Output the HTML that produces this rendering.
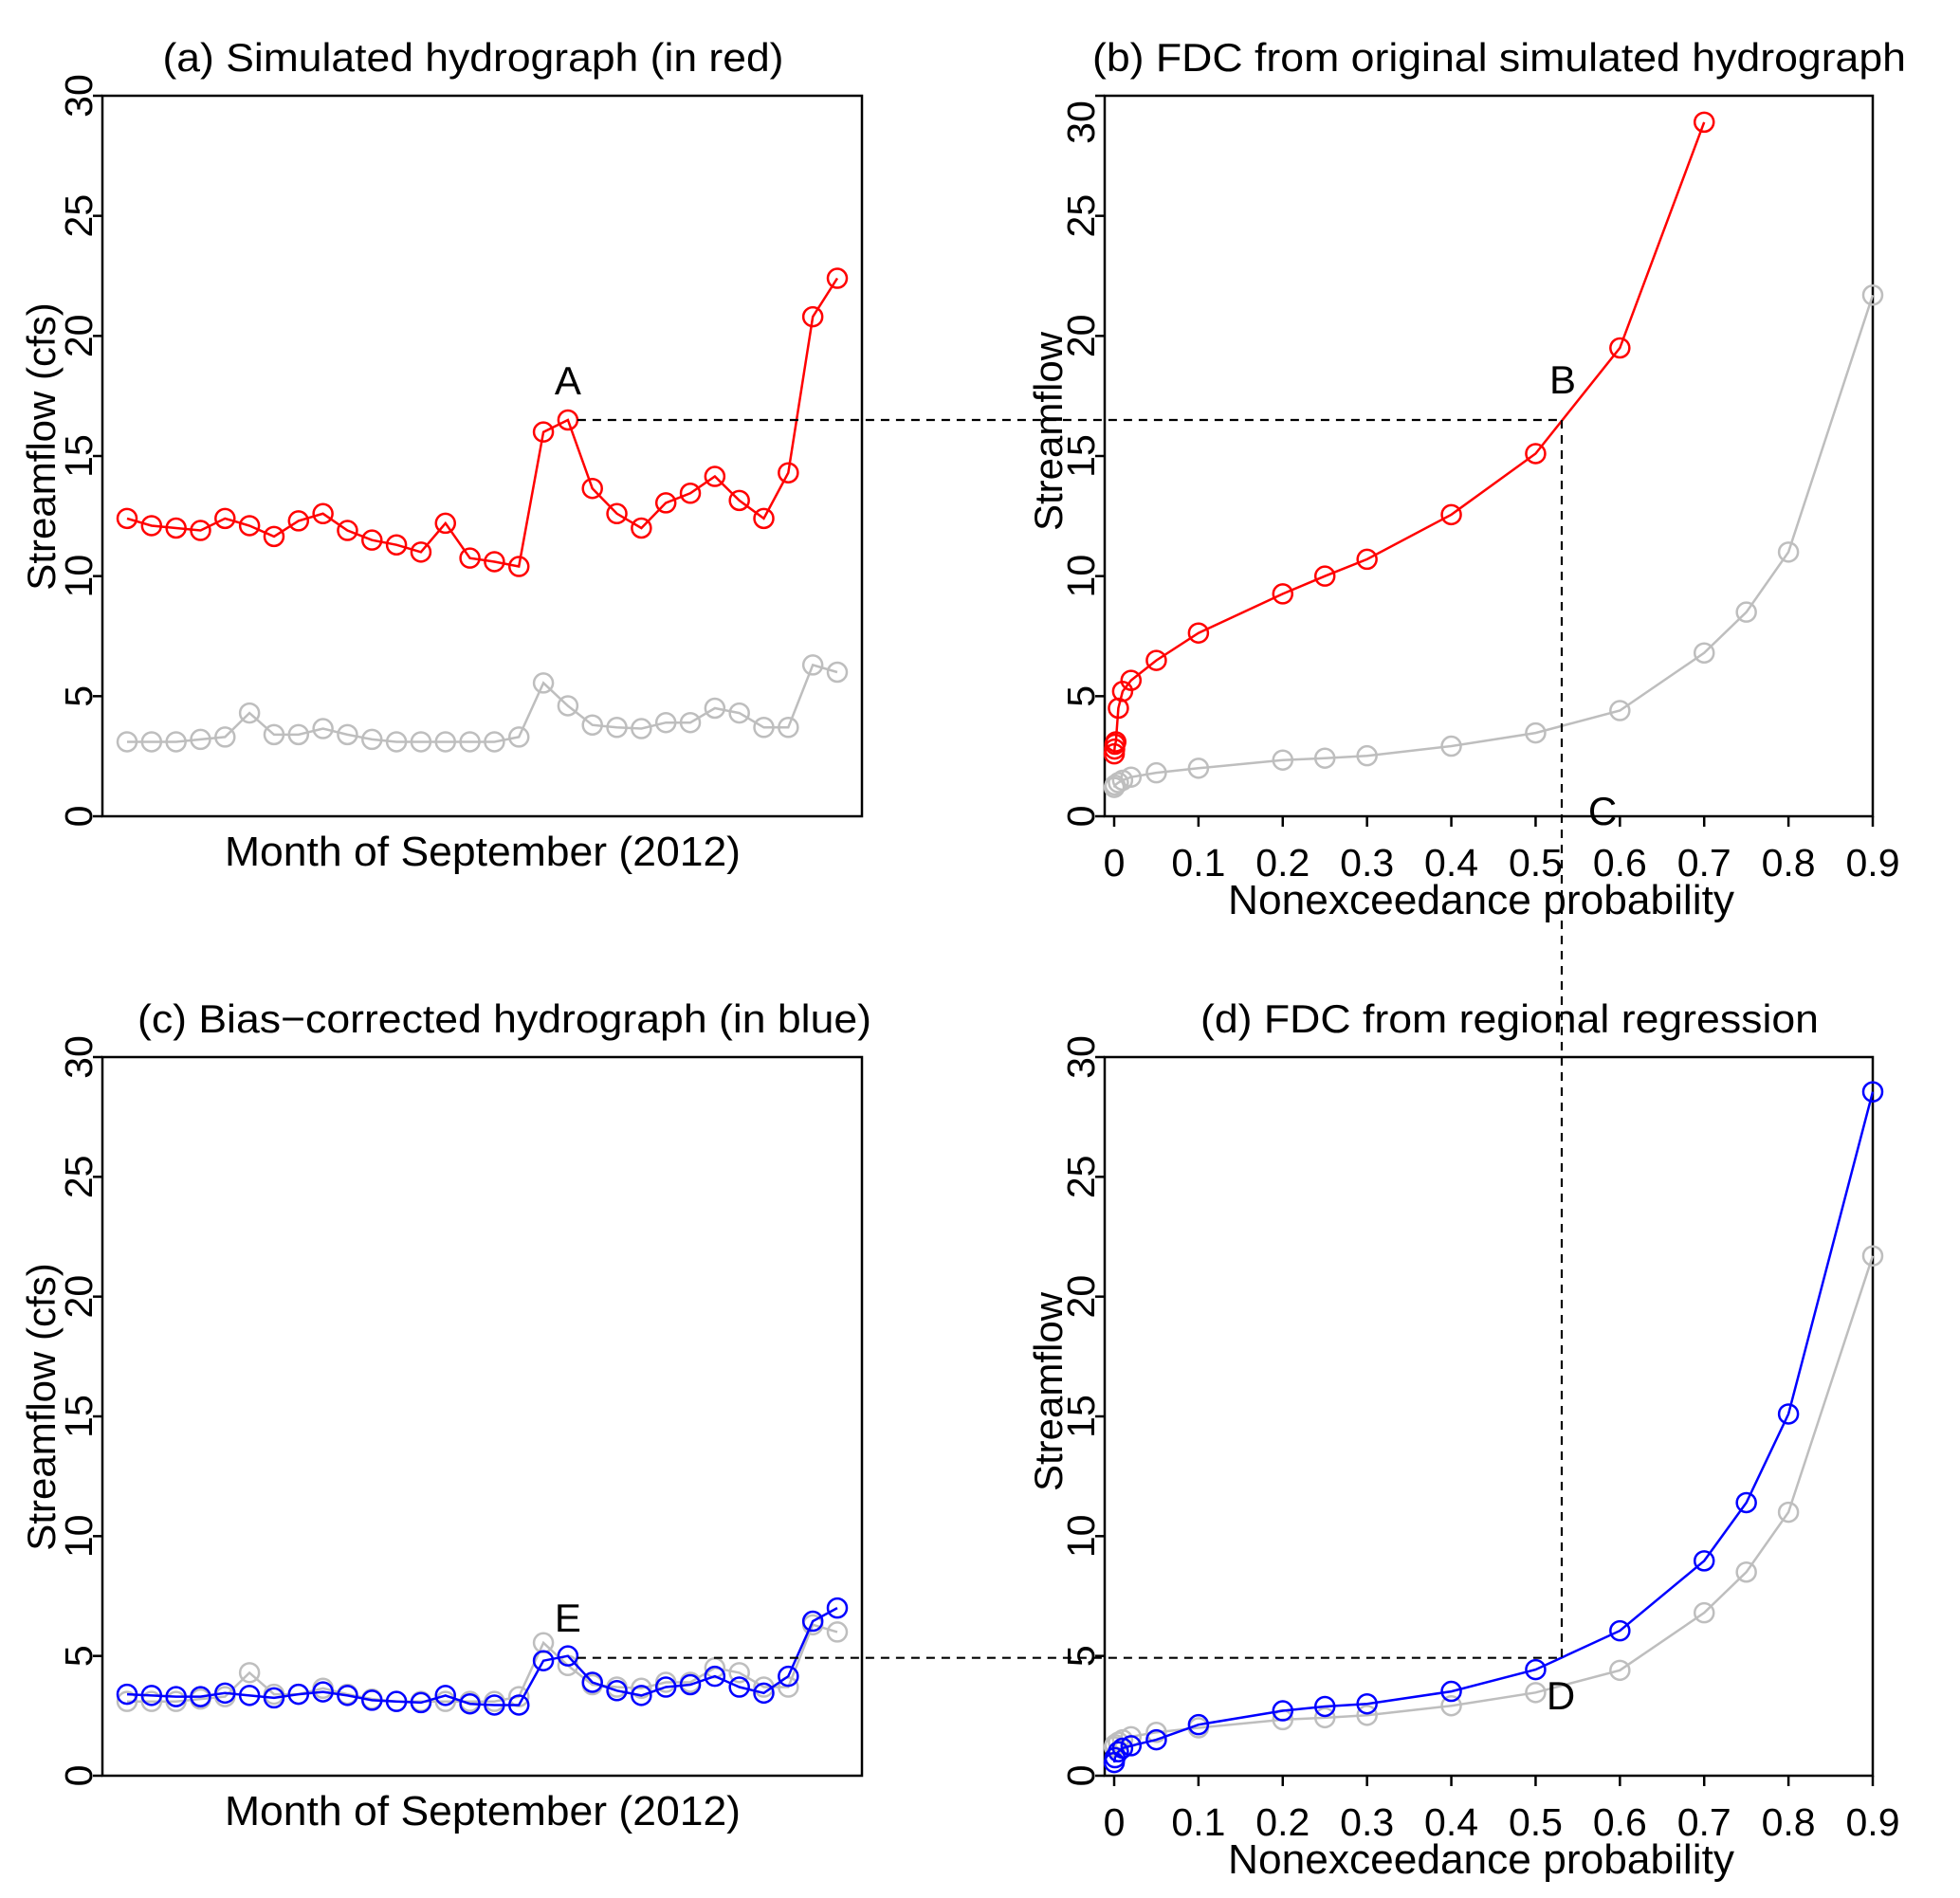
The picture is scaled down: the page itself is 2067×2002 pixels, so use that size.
<!DOCTYPE html>
<html><head><meta charset="utf-8"><style>
html,body{margin:0;padding:0;background:#fff;}
svg{display:block;font-family:"Liberation Sans",Arial,sans-serif;}
</style></head><body>
<svg id="fig" width="2067" height="2002" viewBox="0 0 2067 2002" xmlns="http://www.w3.org/2000/svg">
<rect width="2067" height="2002" fill="#fff"/>
<g id="layer"></g>
</svg>
<script>
const days = [1,2,3,4,5,6,7,8,9,10,11,12,13,14,15,16,17,18,19,20,21,22,23,24,25,26,27,28,29,30];
const simRed = [12.4,12.1,12.0,11.9,12.4,12.1,11.65,12.3,12.6,11.9,11.5,11.3,11.0,12.2,10.75,10.6,10.4,16.0,16.5,13.65,12.6,12.0,13.05,13.45,14.15,13.15,12.4,14.3,20.8,22.4];
const obsGray = [3.1,3.1,3.1,3.2,3.3,4.3,3.4,3.4,3.65,3.4,3.2,3.1,3.1,3.1,3.1,3.1,3.3,5.55,4.6,3.8,3.7,3.65,3.9,3.9,4.5,4.3,3.7,3.7,6.3,6.0];
const corrBlue = [3.4,3.35,3.3,3.3,3.45,3.35,3.25,3.4,3.5,3.35,3.15,3.1,3.05,3.35,3.0,2.95,2.95,4.8,5.0,3.9,3.55,3.35,3.7,3.8,4.15,3.7,3.45,4.15,6.45,7.0];
const redProbs = [0.0001,0.0005,0.001,0.002,0.005,0.01,0.02,0.05,0.1,0.2,0.25,0.3,0.4,0.5,0.6,0.7];
const redFdc = [2.6,2.8,3.0,3.1,4.5,5.2,5.66,6.49,7.63,9.26,10.0,10.7,12.56,15.1,19.5,28.9];
const grayProbs = [0.0001,0.001,0.005,0.01,0.02,0.05,0.1,0.2,0.25,0.3,0.4,0.5,0.6,0.7,0.75,0.8,0.9];
const grayFdc = [1.2,1.3,1.4,1.5,1.63,1.81,2.0,2.34,2.42,2.52,2.92,3.47,4.4,6.8,8.5,11.0,21.7];
const blueProbs = [0.0001,0.001,0.005,0.01,0.02,0.05,0.1,0.2,0.25,0.3,0.4,0.5,0.6,0.7,0.75,0.8,0.9];
const blueFdc = [0.55,0.75,1.0,1.15,1.25,1.5,2.13,2.71,2.89,3.0,3.52,4.43,6.05,8.97,11.4,15.1,28.55];
const yTicks = [0,5,10,15,20,25,30];
const yTickLabels = ["0","5","10","15","20","25","30"];
const xTicks = [0,0.1,0.2,0.3,0.4,0.5,0.6,0.7,0.8,0.9];
const xTickLabels = ["0","0.1","0.2","0.3","0.4","0.5","0.6","0.7","0.8","0.9"];
const refFlowTop = 16.5;
const refFlowBottom = 4.92;
const refProb = 0.531;
const refDay = 19;

const NS="http://www.w3.org/2000/svg";
const layer=document.getElementById('layer');
function mk(tag,attrs,parent){const e=document.createElementNS(NS,tag);for(const k in attrs)e.setAttribute(k,attrs[k]);(parent||layer).appendChild(e);return e;}

const panels={
 a:{x0:108,x1:909,yTop:101,yBot:861},
 b:{x0:1165,x1:1975,yTop:101,yBot:861},
 c:{x0:108,x1:909,yTop:1115,yBot:1873},
 d:{x0:1165,x1:1975,yTop:1115,yBot:1873}
};
function yS(p){return v=>p.yBot-(v/30)*(p.yBot-p.yTop);}
function xDay(d){return 134+(d-1)*(883-134)/29;}
function xProb(pr){return 1175+pr/0.9*(1975-1175);}

function drawFrame(key,title,titleX,titleLen,xlab,isFdc){
 const p=panels[key];const y=yS(p);
 const g=mk('g',{});
 
 
 const box=mk('rect',{x:p.x0,y:p.yTop,width:p.x1-p.x0,height:p.yBot-p.yTop,fill:'none',stroke:'#000','stroke-width':2.5},g);
 
 
 const t=mk('text',{x:titleX,y:p.yTop-26,'font-size':42,'text-anchor':'middle',textLength:titleLen,lengthAdjust:'spacingAndGlyphs'},g);
 t.textContent=title;
 
 
 yTicks.forEach((v,i)=>{
  const ty=y(v);
  mk('line',{x1:p.x0-10,x2:p.x0,y1:ty,y2:ty,stroke:'#000','stroke-width':2.5},g);
  let ly=ty;
  if(key==='b'&&v===30) ly=ty+28;
  const lx=p.x0-11;
  const tl=mk('text',{x:lx,y:ly,'font-size':41,'text-anchor':'middle',transform:`rotate(-90 ${lx} ${ly})`},g);
  tl.textContent=yTickLabels[i];
  
  
 });
 const yl = isFdc ? 'Streamflow' : 'Streamflow (cfs)';
 const ylx = isFdc ? p.x0-45 : p.x0-50;
 const yly = (p.yTop+p.yBot)/2 - (isFdc?26:10);
 const ylab=mk('text',{x:ylx,y:yly,'font-size':42,'text-anchor':'middle',transform:`rotate(-90 ${ylx} ${yly})`},g);
 ylab.textContent=yl;
 
 
 if(isFdc){
  xTicks.forEach((v,i)=>{
   const tx=xProb(v);
   mk('line',{x1:tx,x2:tx,y1:p.yBot,y2:p.yBot+11,stroke:'#000','stroke-width':2.5},g);
   const tl=mk('text',{x:tx,y:p.yBot+63,'font-size':41,'text-anchor':'middle'},g);
   tl.textContent=xTickLabels[i];
   
   
  });
  const xl=mk('text',{x:1562,y:p.yBot+103,'font-size':44,'text-anchor':'middle',textLength:534,lengthAdjust:'spacingAndGlyphs'},g);
  xl.textContent=xlab;
  
  
 } else {
  const xl=mk('text',{x:509,y:p.yBot+52,'font-size':44,'text-anchor':'middle',textLength:544,lengthAdjust:'spacingAndGlyphs'},g);
  xl.textContent=xlab;
  
  
 }
}
function series(xs,ys,xf,yf,color,name){
 const g=mk('g',{});
 
 
 const pts=xs.map((x,i)=>xf(x).toFixed(1)+','+yf(ys[i]).toFixed(1)).join(' ');
 mk('polyline',{points:pts,fill:'none',stroke:color,'stroke-width':2.5},g);
 xs.forEach((x,i)=>{
  const c=mk('circle',{cx:xf(x),cy:yf(ys[i]),r:10,fill:'none',stroke:color,'stroke-width':2.5},g);
  
  
 });
}
drawFrame('a','(a) Simulated hydrograph (in red)',499,655,'Month of September (2012)',false);
drawFrame('b','(b) FDC from original simulated hydrograph',1581,858,'Nonexceedance probability',true);
drawFrame('c','(c) Bias\u2212corrected hydrograph (in blue)',532,774,'Month of September (2012)',false);
drawFrame('d','(d) FDC from regional regression',1592,652,'Nonexceedance probability',true);

const ya=yS(panels.a), yb=yS(panels.b), yc=yS(panels.c), yd=yS(panels.d);
series(days,obsGray,xDay,ya,'#bebebe','observed-hydrograph-a');
series(days,simRed,xDay,ya,'#ff0000','simulated-hydrograph');
series(grayProbs,grayFdc,xProb,yb,'#bebebe','observed-fdc-b');
series(redProbs,redFdc,xProb,yb,'#ff0000','simulated-fdc');
series(days,obsGray,xDay,yc,'#bebebe','observed-hydrograph-c');
series(days,corrBlue,xDay,yc,'#0000ff','corrected-hydrograph');
series(grayProbs,grayFdc,xProb,yd,'#bebebe','observed-fdc-d');
series(blueProbs,blueFdc,xProb,yd,'#0000ff','regional-fdc');

const dash={stroke:'#000','stroke-width':2.2,'stroke-dasharray':'9,7',fill:'none'};
const h1=mk('line',Object.assign({x1:xDay(refDay)+10,x2:xProb(refProb),y1:ya(refFlowTop),y2:ya(refFlowTop)},dash));


const v1=mk('line',Object.assign({x1:xProb(refProb),x2:xProb(refProb),y1:ya(refFlowTop),y2:yd(refFlowBottom)},dash));


const h2=mk('line',Object.assign({x1:xDay(refDay)+10,x2:xProb(refProb),y1:yc(refFlowBottom),y2:yc(refFlowBottom)},dash));



function lab(txt,x,y,name){const t=mk('text',{x:x,y:y,'font-size':42,'text-anchor':'middle'});t.textContent=txt;
 
 }
lab('A',xDay(refDay),416,'label-a');
lab('B',1648,415,'label-b');
lab('C',1690,870,'label-c');
lab('E',xDay(refDay),1721,'label-e');
lab('D',1646,1803,'label-d');
</script>
</body></html>
